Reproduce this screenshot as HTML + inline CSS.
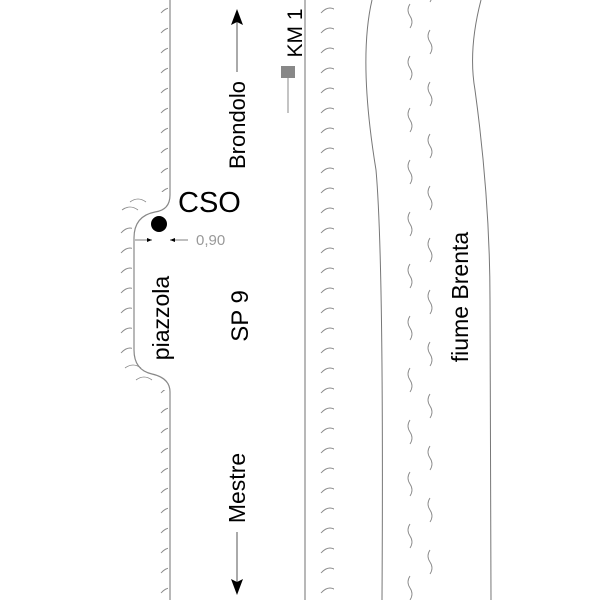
<!DOCTYPE html>
<html><head><meta charset="utf-8"><style>
html,body{margin:0;padding:0;background:#fff;}
svg{display:block;}
text{font-family:"Liberation Sans",Arial,sans-serif;}
</style></head><body>
<svg width="600" height="600" viewBox="0 0 600 600" xmlns="http://www.w3.org/2000/svg">
<defs>
<pattern id="arcs" x="0" y="2" width="40" height="20" patternUnits="userSpaceOnUse">
<path d="M1,11 Q10,1 19,11" fill="none" stroke="#888" stroke-width="0.9"/>
</pattern>
<pattern id="wave" x="0" y="0" width="20" height="52" patternUnits="userSpaceOnUse">
<path d="M10,4 q-4,6 0,12 q4,6 0,12" fill="none" stroke="#888" stroke-width="0.9"/>
</pattern>
<pattern id="wave2" x="0" y="26" width="20" height="52" patternUnits="userSpaceOnUse">
<path d="M10,4 q-4,6 0,12 q4,6 0,12" fill="none" stroke="#888" stroke-width="0.9"/>
</pattern>
</defs>
<path d="M170,0 L170,195 Q170,210 155,212 Q134,216 134,238 L134,350 Q134,370 152,374 Q170,378 170,392 L170,600" fill="none" stroke="#888" stroke-width="1.2"/>
<rect x="148" y="0" width="20" height="192" fill="url(#arcs)"/>
<rect x="148" y="390" width="20" height="210" fill="url(#arcs)"/>
<rect x="112" y="222" width="20" height="140" fill="url(#arcs)"/>
<path d="M130,202 Q138,196 146,202 M122,210 Q130,204 138,210 M125,368 Q133,362 141,368 M136,380 Q144,374 152,380" fill="none" stroke="#888" stroke-width="0.8"/>
<line x1="305" y1="0" x2="305" y2="600" stroke="#888" stroke-width="1.2"/>
<rect x="314" y="0" width="20" height="600" fill="url(#arcs)"/>
<path d="M372,0 Q358,60 376,170 Q384,260 382,600" fill="none" stroke="#777" stroke-width="1"/>
<path d="M481,0 Q468,50 475,90 Q490,200 490,300 L491,600" fill="none" stroke="#777" stroke-width="1"/>
<rect x="400" y="0" width="20" height="600" fill="url(#wave)"/>
<rect x="423" y="0" width="20" height="600" fill="url(#wave2)"/>
<line x1="237" y1="22" x2="237" y2="72" stroke="#555" stroke-width="1"/>
<path d="M237,9 L231,25 L237,22 L243,25 Z" fill="#000"/>
<line x1="237" y1="532" x2="237" y2="582" stroke="#555" stroke-width="1"/>
<path d="M237,595 L231,579 L237,582 L243,579 Z" fill="#000"/>
<text transform="translate(245,125) rotate(-90)" font-size="22" text-anchor="middle">Brondolo</text>
<text transform="translate(245,488) rotate(-90)" font-size="23" text-anchor="middle">Mestre</text>
<text transform="translate(302,33) rotate(-90)" font-size="21" text-anchor="middle">KM 1</text>
<rect x="281" y="66" width="14" height="12" fill="#888"/>
<line x1="288" y1="78" x2="288" y2="113" stroke="#888" stroke-width="1"/>
<text x="178" y="212" font-size="29">CSO</text>
<circle cx="159" cy="224" r="8" fill="#000"/>
<line x1="135" y1="240" x2="152" y2="240" stroke="#555" stroke-width="0.8"/>
<path d="M152,240 l-5,-2 v4 z" fill="#000"/>
<line x1="170" y1="240" x2="188" y2="240" stroke="#555" stroke-width="0.8"/>
<path d="M170,240 l5,-2 v4 z" fill="#000"/>
<text x="196" y="245" font-size="15" fill="#999">0,90</text>
<text transform="translate(169,318) rotate(-90)" font-size="23" text-anchor="middle">piazzola</text>
<text transform="translate(248,316) rotate(-90)" font-size="24" text-anchor="middle">SP 9</text>
<text transform="translate(468,297) rotate(-90)" font-size="23" text-anchor="middle">fiume Brenta</text>
</svg>
</body></html>
